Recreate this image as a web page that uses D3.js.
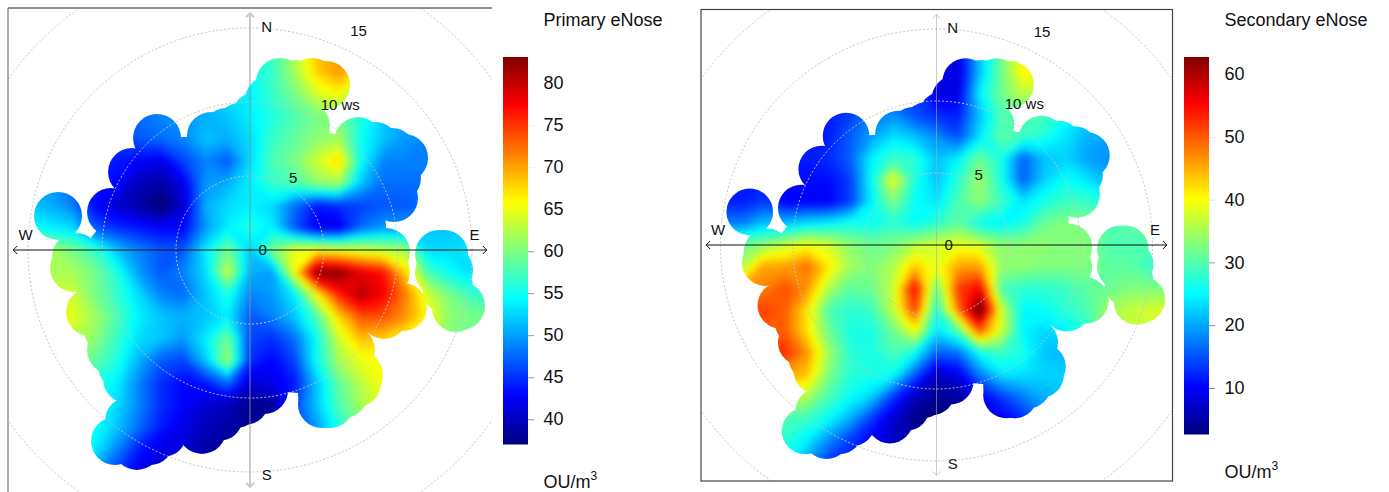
<!DOCTYPE html>
<html>
<head>
<meta charset="utf-8">
<script src="https://cdn.jsdelivr.net/npm/d3@7"></script>
<style>
  html, body { margin: 0; background: #fff; }
  svg { display: block; }
  text { font-family: "Liberation Sans", Arial, sans-serif; fill: #111; }
</style>
</head>
<body>
<svg id="chart" width="1389" height="492"></svg>
<script>
// wind speed grid axis, both ways, in m/s
const gridAxis = d3.range(-16.5, 16.6, 1.5);

// concentration, rows north to south, columns west to east
const primaryGrid = [
  [50,50,50,50,50,50,50,50,50,50,52,55,57,62,68,68,60,54,50,50,50,50,50],
  [50,50,50,50,50,50,50,50,50,50,52,55,57,62,68,68,60,54,50,50,50,50,50],
  [50,50,50,50,50,50,50,50,50,50,52,55,57,62,69,70,62,54,50,50,50,50,50],
  [50,50,50,50,50,50,50,50,50,51,52,55,57,62,68,71,66,55,50,50,50,50,50],
  [50,50,50,50,50,50,49,50,51,52,53,54,57,60,64,66,60,54,50,50,50,50,50],
  [50,50,50,50,50,47,48,49,50,51,52,54,56,58,60,60,56,52,50,50,50,50,50],
  [49,49,49,49,47,46,47,48,49,52,51,53,57,59,61,62,55,52,50,49,49,49,49],
  [47,47,47,46,45,44,43,42,46,49,47,53,58,60,64,68,55,49,49,49,49,49,49],
  [49,50,50,47,44,43,40,39,42,50,51,54,57,58,61,62,52,48,48,48,48,48,48],
  [52,52,51,49,43,41,39,36,41,51,53,54,53,48,44,45,46,47,47,48,50,50,50],
  [55,55,54,53,47,45,44,43,43,50,54,56,54,47,42,42,48,50,50,52,52,52,52],
  [62,62,62,60,57,52,49,47,47,54,60,52,60,65,66,65,64,63,62,53,53,54,55],
  [62,62,62,62,60,56,50,47,49,53,64,51,50,66,83,83,79,77,68,58,55,53,53],
  [64,64,64,64,60,57,53,49,48,52,56,49,50,54,66,76,81,78,72,64,60,57,57],
  [65,65,65,65,62,58,54,52,51,52,54,47,49,52,58,68,74,74,71,66,61,60,60],
  [63,63,63,63,61,57,53,52,50,54,60,46,45,48,55,64,69,68,66,64,60,59,59],
  [60,60,60,60,59,56,51,47,46,52,62,45,43,46,55,62,65,66,66,64,60,59,59],
  [58,58,58,57,56,54,49,45,43,44,48,41,42,44,52,59,63,66,66,64,62,60,60],
  [56,56,56,56,55,53,49,45,43,41,40,38,38,46,52,58,62,65,65,64,62,60,60],
  [55,55,55,55,55,52,48,44,42,40,39,38,38,46,50,56,60,62,62,62,62,60,60],
  [54,54,54,54,54,49,44,42,41,39,38,38,38,46,50,56,60,62,62,62,62,60,60],
  [52,52,52,52,50,46,42,41,40,39,38,38,38,46,50,56,60,60,60,60,60,60,60],
  [52,52,52,52,50,46,42,41,40,39,38,38,38,46,50,56,60,60,60,60,60,60,60]
];

const secondaryGrid = [
  [12,12,12,12,12,12,12,14,16,16,14,12,9,22,32,40,40,30,25,25,25,25,25],
  [12,12,12,12,12,12,12,14,16,16,14,12,9,22,32,40,40,30,25,25,25,25,25],
  [12,12,12,12,12,12,12,14,16,16,14,12,9,22,32,40,40,30,25,25,25,25,25],
  [12,12,12,12,12,12,12,14,16,16,14,11,8,22,32,41,40,30,25,25,25,25,25],
  [12,12,12,12,12,12,12,14,16,16,14,9,9,25,32,37,34,30,25,25,25,25,25],
  [12,12,12,12,12,12,12,14,18,19,15,13,12,22,30,30,30,26,23,22,22,22,22],
  [12,12,12,12,12,12,12,16,20,24,22,19,15,24,31,29,27,24,21,20,20,20,20],
  [12,12,12,12,12,12,13,16,25,29,28,22,25,32,27,16,22,23,20,19,19,19,19],
  [12,12,12,12,11,11,11,14,26,40,27,22,28,35,27,16,23,26,24,21,21,21,21],
  [12,12,12,14,10,10,10,14,25,33,26,24,30,34,29,24,27,29,29,27,27,27,27],
  [18,18,18,22,22,24,25,27,26,28,26,28,31,26,25,27,32,33,33,30,31,31,31],
  [32,32,32,34,37,40,38,34,32,33,36,38,39,38,34,34,34,33,33,30,30,30,30],
  [36,36,36,46,46,49,42,35,33,36,44,39,46,46,34,34,33,33,33,31,31,28,28],
  [46,46,46,48,51,47,36,31,32,37,56,31,52,56,30,28,28,29,31,32,33,33,33],
  [50,50,50,52,50,42,30,28,29,37,52,27,48,66,38,25,26,28,30,35,37,38,38],
  [50,50,50,50,50,42,32,27,27,32,40,24,30,50,38,25,23,25,28,35,37,38,38],
  [53,53,53,53,53,47,35,28,27,30,26,16,17,26,29,27,22,21,22,30,35,38,38],
  [46,46,46,46,46,44,33,28,27,26,16,7,9,18,24,24,23,23,23,28,33,38,38],
  [38,38,38,38,38,36,30,26,23,14,7,4,5,10,14,18,21,22,22,25,30,35,35],
  [30,30,30,30,30,29,26,21,14,8,4,3,4,8,10,13,18,20,20,25,30,35,35],
  [28,28,28,28,28,25,19,14,10,7,5,3,4,8,10,13,18,20,20,25,30,35,35],
  [26,26,26,26,26,20,14,12,9,7,5,3,4,8,10,13,18,20,20,25,30,35,35],
  [26,26,26,26,26,20,14,12,9,7,5,3,4,8,10,13,18,20,20,25,30,35,35]
];

// outer wind bins (east, north, in m/s), the surface only exists near these
const binsMain = [
  [2.03,11.35],[3.11,11.22],[4.19,11.35],[5.14,11.15],[3.78,8.38],[7.30,7.36],[8.45,7.03],[9.59,6.62],[10.41,6.22],
  [9.93,4.86],[9.73,3.51],[7.57,1.62],[9.19,-0.14],[9.19,-1.49],[10.34,-3.85],[9.05,-4.39],
  [6.82,-6.76],[7.36,-8.45],[7.23,-8.99],[6.35,-9.73],[5.41,-10.41],[4.86,-10.41],[4.86,-9.80],[0.95,-9.46],
  [-0.34,-10.20],[-0.95,-10.41],[-2.09,-11.28],[-3.24,-12.16],[-5.88,-12.36],[-6.76,-12.91],[-7.64,-13.24],[-9.12,-12.91],
  [-8.18,-11.55],[-8.31,-8.72],[-8.65,-7.84],[-9.39,-6.76],[-9.59,-5.41],[-10.81,-4.19],[-11.89,-1.22],
  [-11.76,-0.47],[-9.39,2.57],[-7.97,5.27],[-6.28,7.57],[-2.64,7.70],[-1.62,7.97],[-0.68,8.31],[0.41,9.05],[1.28,10.14]
];
const binsWest = [[-12.97,2.30]];
const binsEast = [[12.77,-0.27],[13.11,-0.27],[13.45,-1.35],[13.45,-2.50],[14.26,-3.78],[13.92,-3.92],[13.30,-2.70],[12.77,-1.49]];
const binRadius = 1.62;

const jetColors = ["#00007F","blue","#007FFF","cyan","#7FFF7F","yellow","#FF7F00","red","#7F0000"];
const ringSpeeds = [5, 10, 15, 20, 25];

const compassLabels = ["N", "E", "S", "W"];
const compassU = [1.13, 15.17, 1.13, -15.17];
const compassV = [15.1, 1.06, -15.2, 1.06];

const ringLabels = ["0", "5", "10 ws", "15"];
const ringLabelU = [0.85, 2.92, 6.1, 7.33];
const ringLabelV = [0, 4.9, 9.85, 14.8];

const svg = d3.select("#chart");

const defs = svg.append("defs");
defs.append("filter").attr("id", "soften")
    .attr("x", "-5%").attr("y", "-5%").attr("width", "110%").attr("height", "110%")
    .attr("color-interpolation-filters", "sRGB")
  .append("feGaussianBlur").attr("stdDeviation", 3);

function drawPolar(id, grid, cx, cy, k, domain, frame, heavyNorth){
    const x = d3.scaleLinear().domain([-16, 16]).range([cx - 16 * k, cx + 16 * k]);
    const y = d3.scaleLinear().domain([-16, 16]).range([cy + 16 * k, cy - 16 * k]);
    const color = d3.scaleLinear()
        .domain(jetColors.map((c, i) => domain[0] + (domain[1] - domain[0]) * i / 8))
        .range(jetColors);

    // clip: union of the wind bins, plus the polygons joining them
    const clip = defs.append("clipPath").attr("id", id + "-bins");
    const line = d3.line().x(d => x(d[0])).y(d => y(d[1]));
    [binsMain, binsWest, binsEast].forEach(bins => {
        clip.append("path").attr("d", line(bins) + "Z");
        bins.forEach(b => {
            clip.append("circle").attr("cx", x(b[0])).attr("cy", y(b[1])).attr("r", binRadius * k);
        });
    });
    defs.append("clipPath").attr("id", id + "-frame")
      .append("rect").attr("x", frame[0]).attr("y", frame[1])
        .attr("width", frame[2] - frame[0]).attr("height", frame[3] - frame[1]);

    // filled surface
    const n = gridAxis.length;
    const step = gridAxis[1] - gridAxis[0];
    const thresholds = d3.range(domain[0] - 1, domain[1] + 1, (domain[1] - domain[0]) / 96);
    const contours = d3.contours().size([n, n]).thresholds(thresholds)(grid.flat());
    const path = d3.geoPath(d3.geoTransform({
        point(px, py){
            this.stream.point(x(gridAxis[0] + (px - 0.5) * step), y(gridAxis[n - 1] - (py - 0.5) * step));
        }
    }));
    svg.append("g").attr("clip-path", `url(#${id}-bins)`)
      .append("g").attr("filter", "url(#soften)")
      .selectAll("path").data(contours).join("path")
        .attr("d", path)
        .attr("fill", d => color(Math.max(domain[0], d.value)));

    // rings
    svg.append("g").attr("clip-path", `url(#${id}-frame)`)
      .selectAll("circle").data(ringSpeeds).join("circle")
        .attr("cx", x(0)).attr("cy", y(0))
        .attr("r", d => x(d) - x(0))
        .attr("fill", "none").attr("stroke", "#c4c4c4").attr("stroke-dasharray", "2 2");

    // axes with open arrow heads
    const arrowLine = (g, x1, y1, x2, y2, dx, dy, style) => {
        const p = g.append("path")
            .attr("d", `M${x1},${y1}L${x2},${y2}`
                + `M${x1 + dy * 4 + dx * 4},${y1 + dx * 4 + dy * 4}L${x1},${y1}L${x1 - dy * 4 + dx * 4},${y1 - dx * 4 + dy * 4}`
                + `M${x2 + dy * 4 - dx * 4},${y2 + dx * 4 - dy * 4}L${x2},${y2}L${x2 - dy * 4 - dx * 4},${y2 - dx * 4 - dy * 4}`)
            .attr("fill", "none");
        Object.entries(style).forEach(([a, v]) => p.attr(a, v));
    };
    const axes = svg.append("g");
    arrowLine(axes, x(0), y(16), x(0), y(-16), 0, 1,
        heavyNorth ? {stroke: "#8c8c8c", "stroke-opacity": 0.45, "stroke-width": 2}
                   : {stroke: "#a8a8a8", "stroke-opacity": 0.6, "stroke-width": 1});
    arrowLine(axes, x(-16), y(0), x(16), y(0), 1, 0, {stroke: "#111", "stroke-width": 1});

    // labels
    svg.append("g").selectAll("text").data(compassLabels).join("text")
        .attr("x", (d, i) => x(compassU[i])).attr("y", (d, i) => y(compassV[i]))
        .attr("dy", "0.36em").attr("text-anchor", "middle").attr("font-size", 15)
        .attr("stroke", "#fff").attr("stroke-width", 4).attr("paint-order", "stroke")
        .text(d => d);
    svg.append("g").selectAll("text").data(ringLabels).join("text")
        .attr("x", (d, i) => x(ringLabelU[i])).attr("y", (d, i) => y(ringLabelV[i]))
        .attr("dy", "0.36em").attr("text-anchor", "middle").attr("font-size", 15)
        .text(d => d);

    return color;
}

function drawLegend(color, domain, bar, ticks, faint, title, titleY, unitY){
    const y = d3.scaleLinear().domain(domain).range([bar[3], bar[2]]);

    const steps = d3.range(bar[2], bar[3]);
    svg.append("g").selectAll("rect").data(steps).join("rect")
        .attr("x", bar[0]).attr("y", d => d)
        .attr("width", bar[1] - bar[0]).attr("height", 1.5)
        .attr("fill", d => color(y.invert(d + 0.5)));

    const axis = svg.append("g").attr("transform", `translate(${bar[1]},0)`)
        .call(d3.axisRight(y).tickValues(ticks).tickSize(6).tickPadding(9.5).tickFormat(d3.format("d")));
    axis.select(".domain").remove();
    axis.selectAll(".tick line").attr("stroke", d => faint[ticks.indexOf(d)]);
    axis.selectAll(".tick text")
        .attr("font-size", 18).attr("font-family", "Liberation Sans, Arial, sans-serif").attr("fill", "#111");

    const labelX = bar[1] + 15.5;
    svg.append("text").attr("x", labelX).attr("y", titleY).attr("font-size", 18).text(title);
    const unit = svg.append("text").attr("x", labelX).attr("y", unitY).attr("font-size", 18);
    unit.append("tspan").text("OU/m");
    unit.append("tspan").attr("font-size", 12).attr("dy", -8).text("3");
}

const primaryDomain = [37.05, 83.1];
const secondaryDomain = [2.67, 62.7];

const primaryColor = drawPolar("primary", primaryGrid, 250, 250, 14.8, primaryDomain, [8, 8, 492, 492], true);
svg.append("path").attr("d", "M8,8H492").attr("fill", "none").attr("stroke", "#222").attr("stroke-width", 1.2);
svg.append("path").attr("d", "M8,8V492").attr("fill", "none").attr("stroke", "#777").attr("stroke-width", 1.2);
drawLegend(primaryColor, primaryDomain, [503, 528, 57, 444],
    [40, 45, 50, 55, 60, 65, 70, 75, 80],
    ["#999", "#999", "#999", "#999", "#999", "#fff", "#f0f0f0", "#f0f0f0", "#fff"],
    "Primary eNose", 26, 488);

const secondaryColor = drawPolar("secondary", secondaryGrid, 936.5, 245, 14.4, secondaryDomain, [701, 9.5, 1172.5, 481], false);
svg.append("rect").attr("x", 701).attr("y", 9.5).attr("width", 471.5).attr("height", 471.5)
    .attr("fill", "none").attr("stroke", "#444").attr("stroke-width", 1.2);
drawLegend(secondaryColor, secondaryDomain, [1184, 1209, 57, 434],
    [10, 20, 30, 40, 50, 60],
    ["#888", "#888", "#999", "#ddd", "#e8e8e8", "#fff"],
    "Secondary eNose", 26, 478);
</script>
</body>
</html>
